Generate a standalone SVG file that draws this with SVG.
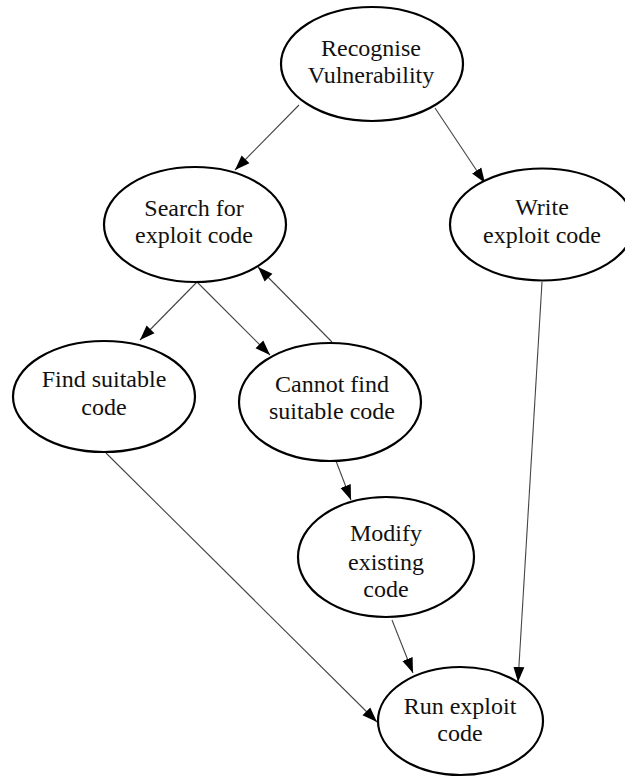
<svg xmlns="http://www.w3.org/2000/svg" width="625" height="778" viewBox="0 0 625 778">
  <style>
    .node ellipse { fill: #ffffff; stroke: #000000; stroke-width: 2.2; }
    .node text { font-family: "Liberation Serif", "Times New Roman", serif; font-size: 24px; fill: #111111; text-anchor: middle; }
    .edge line { stroke: #444444; stroke-width: 1.1; marker-end: url(#arrow); }
  </style>
  <defs>
    <!-- filled triangular arrowhead, tip at the line end -->
    <marker id="arrow" markerUnits="userSpaceOnUse" markerWidth="16" markerHeight="12" refX="15" refY="6" orient="auto">
      <path d="M0,0.5 L15,6 L0,11.5 z" fill="#000000"/>
    </marker>
  </defs>
  <rect width="625" height="778" fill="#ffffff"/>

  <g id="connectors" class="edge">
    <line x1="299" y1="105" x2="235" y2="170"/>
    <line x1="435" y1="108" x2="485" y2="183"/>
    <line x1="197" y1="282" x2="140" y2="340"/>
    <line x1="197" y1="282" x2="270" y2="355"/>
    <line x1="332" y1="342" x2="258" y2="267"/>
    <line x1="336" y1="461" x2="351" y2="500"/>
    <line x1="392" y1="620" x2="413" y2="673"/>
    <line x1="542" y1="282" x2="518" y2="682"/>
    <line x1="106" y1="453" x2="377" y2="722"/>
  </g>

  <g id="recognise" class="node">
    <ellipse cx="372" cy="64" rx="91" ry="57"/>
    <text x="371" y="56">Recognise</text>
    <text x="371" y="83">Vulnerability</text>
  </g>
  <g id="search" class="node">
    <ellipse cx="195" cy="224.5" rx="91" ry="57.5"/>
    <text x="194" y="216">Search for</text>
    <text x="194" y="243">exploit code</text>
  </g>
  <g id="write" class="node">
    <ellipse cx="542" cy="224.5" rx="92" ry="56"/>
    <text x="542" y="215">Write</text>
    <text x="542" y="243">exploit code</text>
  </g>
  <g id="find" class="node">
    <ellipse cx="104" cy="396.5" rx="91" ry="55.5"/>
    <text x="104" y="387">Find suitable</text>
    <text x="104" y="415">code</text>
  </g>
  <g id="cannot" class="node">
    <ellipse cx="330" cy="402" rx="91" ry="59"/>
    <text x="332" y="392">Cannot find</text>
    <text x="332" y="419">suitable code</text>
  </g>
  <g id="modify" class="node">
    <ellipse cx="386" cy="557" rx="88" ry="60"/>
    <text x="386" y="541">Modify</text>
    <text x="386" y="570">existing</text>
    <text x="386" y="597">code</text>
  </g>
  <g id="run" class="node">
    <ellipse cx="460.5" cy="721" rx="82.5" ry="54"/>
    <text x="460" y="714">Run exploit</text>
    <text x="460" y="741">code</text>
  </g>
</svg>
